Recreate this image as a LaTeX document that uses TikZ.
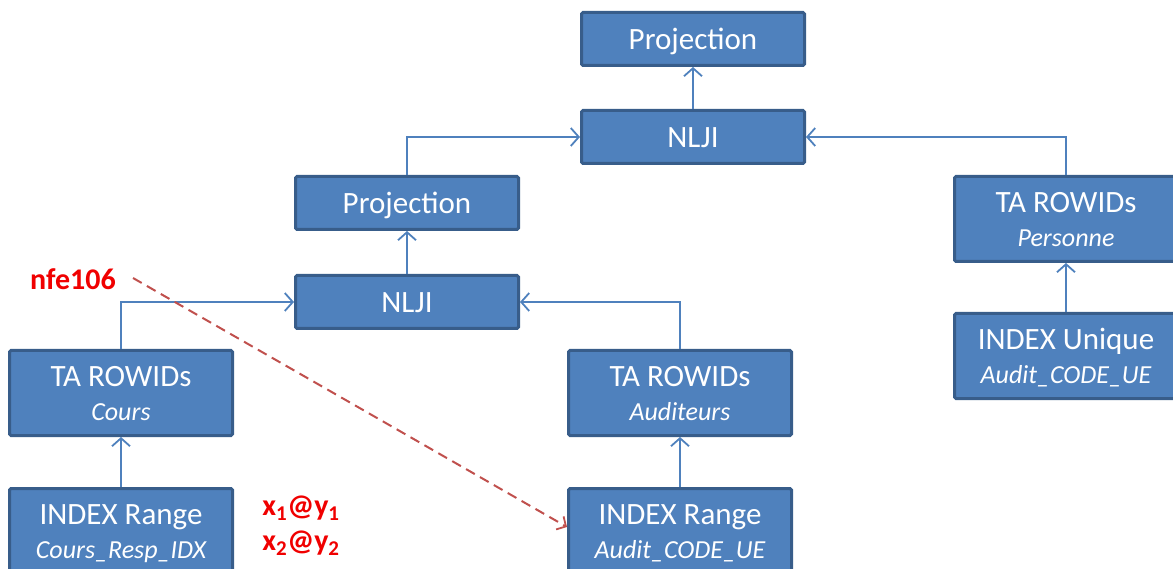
\documentclass[tikz,border=0pt]{standalone}
\usepackage{fontspec}
\setmainfont{Carlito}
\usetikzlibrary{arrows.meta}
\definecolor{boxfill}{HTML}{4F81BD}
\definecolor{boxline}{HTML}{385D8A}
\definecolor{linkblue}{HTML}{4F81BD}
\definecolor{dashred}{HTML}{C0504D}
\definecolor{labelred}{HTML}{F00000}
\tikzset{
  opbox/.style={draw=boxline, line width=3pt, fill=boxfill, rounded corners=1.5pt,
    text=white, font=\fontsize{31}{34}\selectfont, align=center,
    minimum width=223pt, inner sep=0pt},
  onebox/.style={opbox, minimum height=53pt, text height=27pt, text depth=5pt},
  twobox/.style={opbox, minimum height=85pt, text height=55pt, text depth=0pt},
  link/.style={draw=linkblue, line width=1.8pt, -{Straight Barb[length=8pt,width=18pt,line width=1.8pt]}},
  dashlink/.style={draw=dashred, line width=2pt, dash pattern=on 10pt off 6pt,
    -{Straight Barb[length=7pt,width=15pt,line width=1.8pt]}},
  redlabel/.style={text=labelred, font=\bfseries\fontsize{30}{34}\selectfont, inner sep=0pt},
}
\newcommand{\subname}[1]{\\[0pt]{\itshape\fontsize{26}{33}\selectfont #1}}
\begin{document}
\begin{tikzpicture}[x=1pt,y=-1pt]
\useasboundingbox (0,0) rectangle (1173,569);
% operator tree
\node[onebox] (p1) at (693,39) {Projection};
\node[onebox] (n1) at (693,137) {NLJI};
\node[onebox] (p2) at (407,203) {Projection};
\node[onebox] (n2) at (407,302) {NLJI};
\node[twobox] (tp) at (1066,219) {TA ROWIDs\subname{Personne}};
\node[twobox] (iu) at (1066,356) {INDEX Unique\subname{Audit\_CODE\_UE}};
\node[twobox] (tc) at (121,393) {TA ROWIDs\subname{Cours}};
\node[twobox] (ic) at (121,531) {INDEX Range\subname{Cours\_Resp\_IDX}};
\node[twobox] (ta) at (680,393) {TA ROWIDs\subname{Auditeurs}};
\node[twobox] (ia) at (680,531) {INDEX Range\subname{Audit\_CODE\_UE}};
% data flow
\draw[link] (n1) -- (p1);
\draw[link] (p2.north) |- (n1.west);
\draw[link] (tp.north) |- (n1.east);
\draw[link] (n2) -- (p2);
\draw[link] (tc.north) |- (n2.west);
\draw[link] (ta.north) |- (n2.east);
\draw[link] (ic) -- (tc);
\draw[link] (ia) -- (ta);
\draw[link] (iu) -- (tp);
% annotations
\node[redlabel] (nfe) at (73,279) {nfe106};
\node[redlabel] (xy1) at (301,508) {x\textsubscript{1}@y\textsubscript{1}};
\node[redlabel] (xy2) at (301,543) {x\textsubscript{2}@y\textsubscript{2}};
\coordinate (nfeout) at (133,278);
\draw[dashlink] (nfeout) -- ([yshift=4pt]ia.west);
\end{tikzpicture}
\end{document}
